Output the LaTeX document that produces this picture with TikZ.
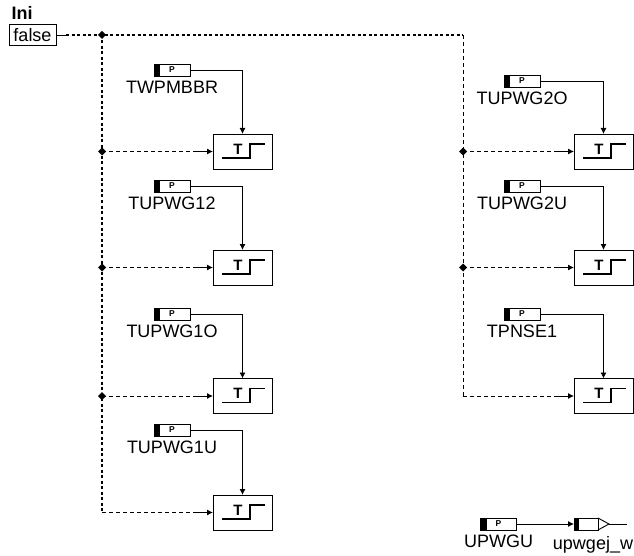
\documentclass[tikz,border=0pt]{standalone}
\usepackage{fontspec}
\setmainfont{Liberation Sans}
\usetikzlibrary{arrows.meta,positioning,shapes.geometric}

\begin{document}
\begin{tikzpicture}[
    x=1pt, y=-1pt,
    font=\fontsize{18}{20}\selectfont,
    line width=0.9pt,
    parbox/.style={
        rectangle, draw, inner sep=0pt, outer sep=0pt,
        minimum width=36pt, minimum height=12pt,
        font=\fontsize{8.5}{9}\selectfont\bfseries,
        path picture={\fill (path picture bounding box.north west) rectangle ([xshift=6pt]path picture bounding box.south west);}
    },
    outbox/.style={
        rectangle, draw, inner sep=0pt, outer sep=0pt,
        minimum width=24pt, minimum height=12pt,
        path picture={\fill (path picture bounding box.north west) rectangle ([xshift=5pt]path picture bounding box.south west);}
    },
    caption/.style={inner sep=0pt, outer sep=0pt, text height=13pt, text depth=0pt},
    stepbox/.style={
        rectangle, draw, inner sep=0pt, outer sep=0pt,
        minimum width=59pt, minimum height=35pt,
        font=\fontsize{15}{15}\selectfont\bfseries,
        text height=10.7pt, text depth=5pt,
        path picture={\draw[line width=1.6pt] (path picture bounding box.center) ++(-20.5,6.5) -- ++(28,0) -- ++(0,-14) -- ++(15,0);}
    },
    inibox/.style={rectangle, draw, inner sep=0pt, outer sep=0pt, minimum width=47pt, minimum height=21pt},
    junction/.style={diamond, fill, inner sep=0pt, outer sep=0pt, minimum width=8pt, minimum height=8pt},
    conn/.style={-{Latex[length=6pt,width=6pt]}},
    wire/.style={line width=0.9pt},
    bus/.style={line width=1.3pt, dash pattern=on 3pt off 2.5pt},
    branch/.style={line width=0.9pt, dash pattern=on 4pt off 3pt},
]
    \useasboundingbox (0,0) rectangle (634,556);

    % Column x-coordinates.
    \def\xLeftBus{102}
    \def\xLeftPar{172}
    \def\xLeftStep{242.5}
    \def\xRightBus{463}
    \def\xRightPar{522}
    \def\xRightStep{603.5}

    % Row y-coordinates of the step boxes.
    \def\yStepA{151.5}
    \def\yStepB{267.5}
    \def\yStepC{396}
    \def\yStepD{512.5}

    % ---------- Ini ----------
    \node[inner sep=0pt, font=\fontsize{18}{20}\selectfont\bfseries] (ini) at (22,13) {Ini};
    \node[inibox] (false) at (32.5,35) {false};
    \coordinate (falseEnd) at (66,35);
    \node[junction] (jTop) at (\xLeftBus,35) {};
    \coordinate (busCorner) at (\xRightBus,35);

    % ---------- left column ----------
    \node[parbox] (parTWPMBBR) at (\xLeftPar,70) {P};
    \node[caption, below=4.5pt of parTWPMBBR] (capTWPMBBR) {TWPMBBR};
    \node[stepbox] (stepA) at (\xLeftStep,\yStepA) {T\kern9pt};
    \node[junction] (jA) at (\xLeftBus,\yStepA) {};
    \coordinate (endA) at (195,\yStepA);

    \node[parbox] (parTUPWGoneTwo) at (\xLeftPar,186) {P};
    \node[caption, below=4.5pt of parTUPWGoneTwo] (capTUPWGoneTwo) {TUPWG12};
    \node[stepbox] (stepB) at (\xLeftStep,\yStepB) {T\kern9pt};
    \node[junction] (jB) at (\xLeftBus,\yStepB) {};
    \coordinate (endB) at (195,\yStepB);

    \node[parbox] (parTUPWGoneO) at (\xLeftPar,314) {P};
    \node[caption, below=4.5pt of parTUPWGoneO] (capTUPWGoneO) {TUPWG1O};
    \node[stepbox] (stepC) at (\xLeftStep,\yStepC) {T\kern9pt};
    \node[junction] (jC) at (\xLeftBus,\yStepC) {};
    \coordinate (endC) at (195,\yStepC);

    \node[parbox] (parTUPWGoneU) at (\xLeftPar,430) {P};
    \node[caption, below=4.5pt of parTUPWGoneU] (capTUPWGoneU) {TUPWG1U};
    \node[stepbox] (stepD) at (\xLeftStep,\yStepD) {T\kern9pt};
    \coordinate (cornerD) at (\xLeftBus,\yStepD);
    \coordinate (endD) at (195,\yStepD);

    % ---------- right column ----------
    \node[parbox] (parTUPWGtwoO) at (\xRightPar,81) {P};
    \node[caption, below=4.5pt of parTUPWGtwoO] (capTUPWGtwoO) {TUPWG2O};
    \node[stepbox] (stepE) at (\xRightStep,\yStepA) {T\kern9pt};
    \node[junction] (jE) at (\xRightBus,\yStepA) {};
    \coordinate (endE) at (556,\yStepA);

    \node[parbox] (parTUPWGtwoU) at (\xRightPar,186) {P};
    \node[caption, below=4.5pt of parTUPWGtwoU] (capTUPWGtwoU) {TUPWG2U};
    \node[stepbox] (stepF) at (\xRightStep,\yStepB) {T\kern9pt};
    \node[junction] (jF) at (\xRightBus,\yStepB) {};
    \coordinate (endF) at (556,\yStepB);

    \node[parbox] (parTPNSE) at (\xRightPar,314) {P};
    \node[caption, below=4.5pt of parTPNSE] (capTPNSE) {TPNSE1};
    \node[stepbox] (stepG) at (\xRightStep,\yStepC) {T\kern9pt};
    \coordinate (cornerG) at (\xRightBus,\yStepC);
    \coordinate (endG) at (556,\yStepC);

    % ---------- output ----------
    \node[parbox] (parUPWGU) at (498.5,524) {P};
    \node[caption, below=4.5pt of parUPWGU] (capUPWGU) {UPWGU};
    \node[outbox] (outUpwgej) at (586,524) {};
    \node[caption] (capUpwgej) at (593,543) {upwgej\_w};
    \coordinate (outTip) at (609,524);
    \coordinate (outEnd) at (627,524);

    % ---------- bus ----------
    \draw[wire] (false.east) -- (falseEnd);
    \draw[bus] (falseEnd) -- (busCorner);
    \draw[bus] (jTop.center) -- (cornerD);
    \draw[branch] (busCorner) -- (cornerG);

    \draw[branch] (jA.center) -- (endA);
    \draw[branch] (jB.center) -- (endB);
    \draw[branch] (jC.center) -- (endC);
    \draw[branch] (cornerD) -- (endD);
    \draw[branch] (jE.center) -- (endE);
    \draw[branch] (jF.center) -- (endF);
    \draw[branch] (cornerG) -- (endG);

    \draw[conn] (endA) -- (stepA);
    \draw[conn] (endB) -- (stepB);
    \draw[conn] (endC) -- (stepC);
    \draw[conn] (endD) -- (stepD);
    \draw[conn] (endE) -- (stepE);
    \draw[conn] (endF) -- (stepF);
    \draw[conn] (endG) -- (stepG);

    % ---------- parameter wires ----------
    \draw[conn] (parTWPMBBR.east) -| (stepA.north);
    \draw[conn] (parTUPWGoneTwo.east) -| (stepB.north);
    \draw[conn] (parTUPWGoneO.east) -| (stepC.north);
    \draw[conn] (parTUPWGoneU.east) -| (stepD.north);
    \draw[conn] (parTUPWGtwoO.east) -| (stepE.north);
    \draw[conn] (parTUPWGtwoU.east) -| (stepF.north);
    \draw[conn] (parTPNSE.east) -| (stepG.north);

    \draw[conn] (parUPWGU.east) -- (outUpwgej.west);
    \draw (outUpwgej.north east) -- (outTip) -- (outUpwgej.south east);
    \draw[wire] (outTip) -- (outEnd);
\end{tikzpicture}
\end{document}
